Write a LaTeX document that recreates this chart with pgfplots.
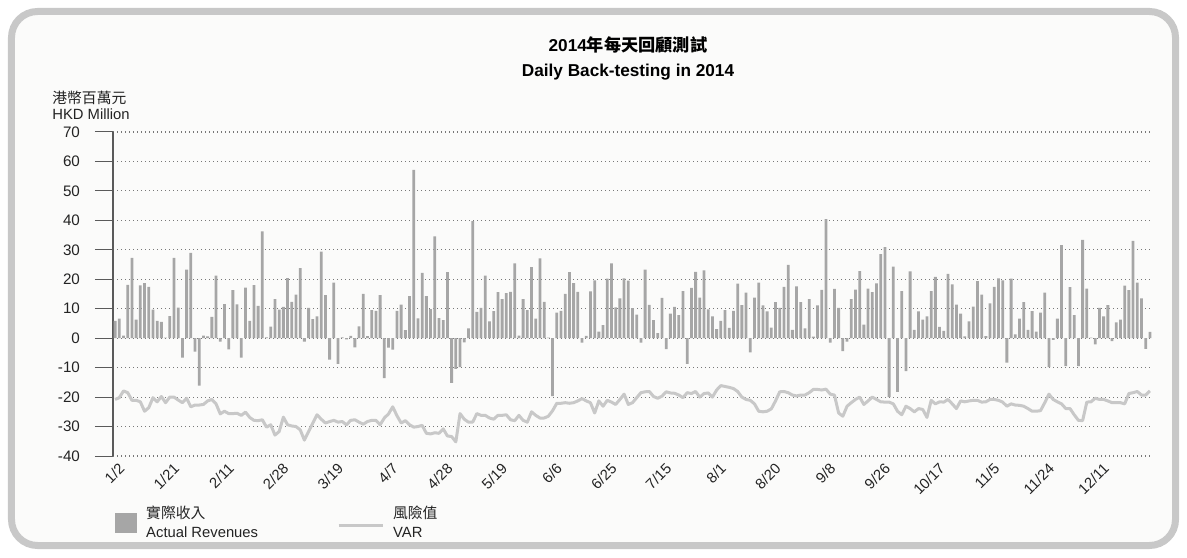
\documentclass[border=0pt]{standalone}
\usepackage{fontspec}
\setmainfont{Liberation Sans}
\newfontfamily\cjk{Noto Sans CJK TC}
\usepackage{pgfplots}
\pgfplotsset{compat=1.18}
\usepackage{pgfplotstable}
\definecolor{barcol}{RGB}{166,166,166}
\definecolor{varcol}{RGB}{200,200,200}
\definecolor{framecol}{RGB}{200,200,200}
\definecolor{bgcol}{RGB}{251,251,250}
\definecolor{gridcol}{RGB}{120,120,120}
\definecolor{axcol}{RGB}{90,90,90}
\definecolor{txtcol}{RGB}{35,35,35}

\pgfplotstableread{
i r v
0 5.9 -20.8
1 6.6 -20.2
2 0.9 -17.9
3 18.1 -18.5
4 27.3 -21.1
5 6.3 -21.1
6 17.9 -21.6
7 18.7 -24.8
8 17.4 -23.6
9 9.7 -20.2
10 5.9 -21.6
11 5.5 -19.8
12 0.2 -21.9
13 7.5 -20.0
14 27.3 -20.0
15 10.4 -21.0
16 -6.6 -21.9
17 23.3 -20.4
18 29.0 -23.3
19 -4.6 -22.7
20 -16.1 -22.7
21 0.9 -22.5
22 0.6 -21.3
23 7.2 -20.8
24 21.2 -22.3
25 -1.2 -25.7
26 11.6 -24.8
27 -3.8 -25.6
28 16.3 -25.6
29 11.5 -25.5
30 -6.6 -26.2
31 17.2 -25.1
32 5.9 -26.9
33 18.0 -27.9
34 11.0 -28.0
35 36.3 -27.7
36 0.3 -30.2
37 3.9 -29.4
38 13.3 -32.9
39 9.7 -31.7
40 10.6 -26.8
41 20.4 -29.4
42 12.3 -29.8
43 14.8 -30.0
44 23.8 -31.1
45 -1.2 -34.6
46 10.3 -31.7
47 6.5 -28.8
48 7.4 -26.0
49 29.4 -27.5
50 14.6 -28.8
51 -7.3 -28.3
52 18.9 -27.9
53 -8.7 -28.5
54 0.3 -28.3
55 -0.4 -29.4
56 0.8 -27.9
57 -3.1 -27.7
58 4.0 -28.5
59 15.0 -29.2
60 0.7 -28.3
61 9.5 -27.9
62 9.3 -27.9
63 14.6 -29.4
64 -13.6 -27.1
65 -3.2 -25.7
66 -3.9 -23.3
67 9.3 -26.3
68 11.4 -28.8
69 2.7 -28.0
70 14.3 -29.4
71 57.1 -30.2
72 6.7 -30.0
73 22.2 -29.6
74 14.3 -32.3
75 9.9 -32.5
76 34.6 -32.1
77 6.8 -32.3
78 6.1 -30.8
79 22.4 -33.2
80 -15.2 -33.4
81 -10.4 -35.2
82 -9.8 -25.6
83 -1.4 -27.5
84 3.3 -28.5
85 39.7 -28.5
86 8.9 -25.6
87 10.3 -26.2
88 21.2 -26.2
89 5.7 -27.1
90 9.2 -27.5
91 15.6 -26.2
92 13.3 -26.2
93 15.3 -26.0
94 15.7 -27.7
95 25.4 -28.0
96 0.9 -26.2
97 13.3 -27.9
98 9.5 -28.5
99 24.1 -25.0
100 6.6 -26.2
101 27.1 -27.1
102 12.3 -27.1
103 0.2 -26.5
104 -19.7 -24.6
105 8.7 -22.1
106 9.3 -22.1
107 15.0 -21.9
108 22.4 -22.1
109 18.7 -21.9
110 15.7 -21.3
111 -1.5 -20.5
112 0.8 -21.3
113 15.9 -21.9
114 19.6 -25.4
115 2.2 -21.3
116 4.4 -23.1
117 20.2 -21.1
118 25.4 -21.7
119 10.5 -22.5
120 13.5 -20.8
121 20.3 -19.0
122 19.5 -22.5
123 10.2 -21.9
124 8.0 -20.2
125 -1.5 -18.5
126 23.3 -18.2
127 11.3 -18.1
128 6.1 -19.8
129 1.7 -20.4
130 13.7 -19.7
131 -3.7 -18.2
132 8.3 -18.6
133 10.6 -18.7
134 7.8 -19.3
135 16.0 -20.2
136 -8.7 -18.5
137 17.1 -18.8
138 22.5 -18.1
139 13.8 -20.0
140 23.0 -18.8
141 9.8 -18.6
142 7.4 -20.0
143 3.1 -17.6
144 5.9 -16.1
145 9.5 -16.4
146 3.5 -16.7
147 9.3 -17.1
148 18.5 -18.1
149 11.2 -20.0
150 15.5 -20.8
151 -4.8 -21.1
152 13.8 -22.3
153 18.9 -24.8
154 11.1 -25.0
155 9.1 -24.8
156 3.6 -24.0
157 12.2 -21.3
158 10.3 -18.2
159 17.4 -18.1
160 24.9 -18.5
161 2.8 -19.3
162 17.6 -19.6
163 12.2 -19.3
164 3.3 -19.3
165 13.3 -18.5
166 0.5 -17.4
167 11.1 -17.4
168 16.4 -17.6
169 40.4 -17.3
170 -1.5 -19.0
171 16.7 -19.3
172 10.3 -25.4
173 -4.4 -26.5
174 -1.2 -23.1
175 13.3 -21.9
176 16.5 -20.8
177 22.8 -20.0
178 4.6 -22.5
179 16.8 -21.3
180 15.6 -20.0
181 18.6 -20.8
182 28.5 -21.6
183 30.9 -21.7
184 -20.0 -21.7
185 24.3 -22.3
186 -18.2 -24.8
187 16.0 -26.0
188 -11.2 -23.1
189 22.7 -23.9
190 2.8 -25.0
191 9.1 -23.9
192 6.3 -24.2
193 7.4 -26.9
194 16.0 -21.1
195 20.8 -22.3
196 3.8 -21.6
197 2.5 -21.7
198 21.8 -20.8
199 18.3 -22.3
200 11.4 -23.9
201 8.3 -21.3
202 0.6 -21.6
203 5.7 -21.3
204 10.7 -21.1
205 19.4 -21.1
206 14.8 -21.7
207 0.7 -21.6
208 11.8 -20.8
209 17.4 -20.8
210 20.3 -21.1
211 19.6 -21.7
212 -8.3 -23.1
213 20.2 -22.3
214 1.3 -22.7
215 6.6 -22.8
216 12.2 -23.1
217 2.8 -23.9
218 9.2 -24.8
219 2.2 -24.8
220 8.7 -24.6
221 15.5 -21.9
222 -9.8 -19.0
223 -0.6 -20.8
224 6.6 -21.6
225 31.6 -22.3
226 -9.5 -23.9
227 17.3 -23.9
228 7.8 -26.0
229 -9.5 -27.9
230 33.4 -28.0
231 16.8 -21.7
232 0.2 -21.6
233 -2.1 -20.4
234 10.3 -20.8
235 7.4 -20.8
236 11.2 -21.3
237 -1.0 -21.9
238 5.4 -21.9
239 6.3 -21.9
240 17.8 -22.3
241 16.3 -18.8
242 33.0 -18.5
243 18.9 -18.1
244 13.5 -19.3
245 -3.6 -19.3
246 2.1 -17.9
}\datatable

\begin{document}
\begin{tikzpicture}
\path[use as bounding box] (-56.5pt,-50.5pt) rectangle (537pt,228pt);
\draw[line width=3.5pt, draw=framecol, fill=bgcol, rounded corners=13pt]
  (-50.75pt,-44.75pt) rectangle (531.25pt,222.25pt);
\begin{axis}[
  at={(0pt,0pt)}, anchor=south west,
  scale only axis, width=519.5pt, height=162pt,
  xmin=-0.5, xmax=246.5, ymin=-40, ymax=70,
  axis x line*=bottom, axis y line*=left,
  x axis line style={draw=none},
  y axis line style={draw=axcol, line width=0.6pt},
  ytick={-40,-30,...,70},
  ymajorgrids,
  grid style={draw=gridcol, line width=0.55pt, dash pattern=on 0.6pt off 1.4pt},
  tick align=outside,
  major tick length=9pt,
  minor tick length=6pt,
  tick style={draw=axcol, line width=0.5pt},
  minor tick style={yshift=3pt},
  xtick=\empty,
  minor xtick={12.5,25.5,...,233.5},
  extra x ticks={0,13,...,234},
  extra x tick labels={1/2,1/21,2/11,2/28,3/19,4/7,4/28,5/19,6/6,6/25,7/15,8/1,8/20,9/8,9/26,10/17,11/5,11/24,12/11},
  extra x tick style={major tick length=0pt, grid=none,
     xticklabel style={rotate=45, anchor=north east, font=\fontsize{7.4pt}{8pt}\selectfont, text=txtcol, inner sep=1pt, yshift=-2pt}},
  yticklabel style={font=\fontsize{7.6pt}{9pt}\selectfont, text=txtcol, xshift=-4pt},
  /pgf/number format/assume math mode=true,
  clip=false,
  legend columns=2,
  legend style={draw=none, fill=none, at={(-0.004,-0.135)}, anchor=north west,
     font=\fontsize{7.4pt}{9.5pt}\selectfont, text=txtcol,
     nodes={align=left, inner sep=1pt},
     /tikz/every odd column/.append style={column sep=3.5pt},
     /tikz/every even column/.append style={column sep=38.5pt}},
  legend cell align=left,
]
\addplot[ybar, bar width=1.4pt, fill=barcol, draw=none,
  legend image code/.code={\fill[barcol] (0pt,-5pt) rectangle (11pt,5pt);}]
  table[x=i, y=r] {\datatable};
\addlegendentry{{\cjk 實際收入}\\Actual Revenues}
\addplot[line width=1.5pt, color=varcol, no marks, line join=round,
  legend image code/.code={\draw[varcol, line width=1.5pt] (0pt,-1pt) -- (22pt,-1pt);}]
  table[x=i, y=v] {\datatable};
\addlegendentry{{\cjk 風險值}\\VAR}
\end{axis}
\node[font=\bfseries\fontsize{8.6pt}{10pt}\selectfont, text=black] at (257.5pt,205.5pt) {2014{\cjk\bfseries 年每天回顧測試}};
\node[font=\bfseries\fontsize{8.6pt}{10pt}\selectfont, text=black] at (257.5pt,192pt) {Daily Back-testing in 2014};
\node[anchor=west, font=\fontsize{7.4pt}{9pt}\selectfont, text=txtcol, inner sep=0pt] at (-30.5pt,179pt) {\cjk 港幣百萬元};
\node[anchor=west, font=\fontsize{7.4pt}{9pt}\selectfont, text=txtcol, inner sep=0pt] at (-30.5pt,171pt) {HKD Million};
\end{tikzpicture}
\end{document}
